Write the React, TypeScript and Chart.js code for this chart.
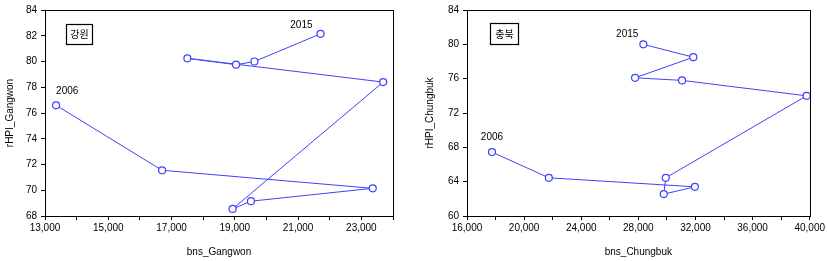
import React, { useEffect, useRef } from "react";
import { Chart, registerables } from "chart.js";

Chart.register(...registerables);

const years = ["2006", "2007", "2008", "2009", "2010", "2011", "2012", "2013", "2014", "2015"];
const gangwonBns = [13350, 16700, 23360, 19510, 18930, 23690, 17500, 19040, 19620, 21710];
const gangwonHpi = [76.6, 71.55, 70.15, 69.15, 68.55, 78.4, 80.25, 79.75, 80.0, 82.15];
const chungbukBns = [17750, 21730, 31960, 29780, 29920, 39780, 31060, 27770, 31850, 28350];
const chungbukHpi = [67.45, 64.45, 63.4, 62.55, 64.45, 74.0, 75.8, 76.1, 78.5, 80.0];

const FONT = "'Liberation Sans', Arial, sans-serif";
const BLUE = "#3f3fff";

type Cfg = {
  xs: number[];
  ys: number[];
  region: string;
  xTitle: string;
  yTitle: string;
  xMin: number;
  xMax: number;
  xStep: number;
  xLabelEvery: number;
  yMin: number;
  yMax: number;
  yStep: number;
  yAxisWidth: number;
  padTop: number;
  padRight: number;
  box: { x: number; y: number; w: number; h: number };
  firstLabel: { dx: number; dy: number; align: CanvasTextAlign };
  lastLabel: { dx: number; dy: number; align: CanvasTextAlign };
};

function fmt(v: number) {
  return v.toLocaleString("en-US");
}

function Panel({ cfg, left, width }: { cfg: Cfg; left: number; width: number }) {
  const ref = useRef<HTMLCanvasElement>(null);
  useEffect(() => {
    if (!ref.current) return;
    const decor = {
      id: "decor",
      afterDraw(chart: any) {
        const ctx = chart.ctx;
        const a = chart.chartArea;
        ctx.save();
        ctx.strokeStyle = "#000";
        ctx.lineWidth = 1;
        ctx.strokeRect(Math.round(a.left) + 0.5, Math.round(a.top) + 0.5, Math.round(a.right - a.left), Math.round(a.bottom - a.top));
        // region box
        const b = cfg.box;
        ctx.fillStyle = "#fff";
        ctx.fillRect(a.left + b.x, a.top + b.y, b.w, b.h);
        ctx.lineWidth = 1.2;
        ctx.strokeRect(a.left + b.x + 0.5, a.top + b.y + 0.5, b.w, b.h);
        ctx.fillStyle = "#000";
        ctx.font = `10px 'Noto Sans CJK KR', ${FONT}`;
        ctx.textAlign = "center";
        ctx.textBaseline = "middle";
        ctx.fillText(cfg.region, a.left + b.x + b.w / 2 + 0.5, a.top + b.y + b.h / 2 + 0.5);
        // year labels
        const xs = chart.scales.x;
        const ys = chart.scales.y;
        ctx.font = `10px ${FONT}`;
        const n = cfg.xs.length;
        const items = [
          { i: 0, l: cfg.firstLabel },
          { i: n - 1, l: cfg.lastLabel },
        ];
        for (const it of items) {
          const px = xs.getPixelForValue(cfg.xs[it.i]);
          const py = ys.getPixelForValue(cfg.ys[it.i]);
          ctx.textAlign = it.l.align;
          ctx.fillText(years[it.i], px + it.l.dx, py + it.l.dy);
        }
        ctx.restore();
      },
    };
    const chart = new Chart(ref.current, {
      type: "scatter",
      data: {
        datasets: [
          {
            data: cfg.xs.map((x, i) => ({ x, y: cfg.ys[i] })),
            showLine: true,
            borderColor: BLUE,
            borderWidth: 1,
            pointRadius: 3.5,
            pointBorderWidth: 1.2,
            pointBackgroundColor: "#fff",
            pointBorderColor: BLUE,
            tension: 0,
          },
        ],
      },
      options: {
        animation: false,
        responsive: false,
        maintainAspectRatio: false,
        devicePixelRatio: 1,
        layout: { padding: { top: cfg.padTop, right: cfg.padRight, left: 0, bottom: 0 } },
        plugins: { legend: { display: false }, tooltip: { enabled: false } },
        scales: {
          x: {
            type: "linear",
            min: cfg.xMin,
            max: cfg.xMax,
            afterFit: (s: any) => {
              s.height = 45;
            },
            ticks: {
              stepSize: cfg.xStep,
              autoSkip: false,
              maxRotation: 0,
              padding: 2,
              color: "#000",
              font: { family: FONT, size: 10 },
              callback: (v: any) => ((Number(v) - cfg.xMin) % cfg.xLabelEvery === 0 ? fmt(Number(v)) : ""),
            },
            grid: { display: true, drawOnChartArea: false, drawTicks: true, tickLength: 4, color: "#000" },
            border: { display: true, color: "#000", width: 1 },
            title: {
              display: true,
              text: cfg.xTitle,
              color: "#000",
              font: { family: FONT, size: 10 },
              padding: { top: 0, bottom: 3 },
            },
          },
          y: {
            type: "linear",
            min: cfg.yMin,
            max: cfg.yMax,
            afterFit: (s: any) => {
              s.width = cfg.yAxisWidth;
            },
            ticks: {
              stepSize: cfg.yStep,
              autoSkip: false,
              padding: 4,
              color: "#000",
              font: { family: FONT, size: 10 },
            },
            grid: { display: true, drawOnChartArea: false, drawTicks: true, tickLength: 4, color: "#000" },
            border: { display: true, color: "#000", width: 1 },
            title: {
              display: true,
              text: cfg.yTitle,
              color: "#000",
              font: { family: FONT, size: 10 },
              padding: { top: 4, bottom: 0 },
            },
          },
        },
      },
      plugins: [decor],
    });
    return () => chart.destroy();
  }, [cfg]);
  return (
    <div style={{ position: "absolute", left, top: 0, width, height: 261 }}>
      <canvas ref={ref} width={width} height={261} style={{ width, height: 261, display: "block" }} />
    </div>
  );
}

const gangwonCfg: Cfg = {
  xs: gangwonBns,
  ys: gangwonHpi,
  region: "강원",
  xTitle: "bns_Gangwon",
  yTitle: "rHPI_Gangwon",
  xMin: 13000,
  xMax: 24000,
  xStep: 1000,
  xLabelEvery: 2000,
  yMin: 68,
  yMax: 84,
  yStep: 2,
  yAxisWidth: 45,
  padTop: 7,
  padRight: 20,
  box: { x: 21, y: 14, w: 26, h: 20 },
  firstLabel: { dx: 0, dy: -14, align: "left" },
  lastLabel: { dx: -8, dy: -9, align: "right" },
};

const chungbukCfg: Cfg = {
  xs: chungbukBns,
  ys: chungbukHpi,
  region: "충북",
  xTitle: "bns_Chungbuk",
  yTitle: "rHPI_Chungbuk",
  xMin: 16000,
  xMax: 40000,
  xStep: 2000,
  xLabelEvery: 4000,
  yMin: 60,
  yMax: 84,
  yStep: 4,
  yAxisWidth: 47,
  padTop: 9,
  padRight: 17,
  box: { x: 23, y: 13, w: 28, h: 21 },
  firstLabel: { dx: 0, dy: -15, align: "center" },
  lastLabel: { dx: -5, dy: -10, align: "right" },
};

export default function App() {
  return (
    <div style={{ position: "absolute", left: 0, top: 0, width: 827, height: 261, background: "#fff" }}>
      <Panel cfg={gangwonCfg} left={0} width={413} />
      <Panel cfg={chungbukCfg} left={420} width={407} />
    </div>
  );
}
